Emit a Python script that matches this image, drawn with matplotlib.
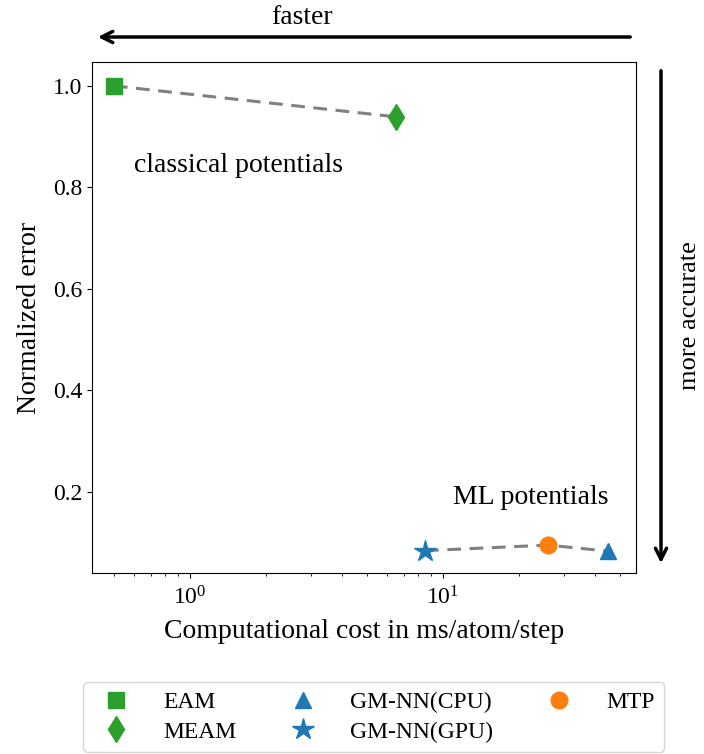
import matplotlib
matplotlib.use('Agg')
import matplotlib.pyplot as plt
import numpy as np

plt.rcParams['font.family'] = 'Liberation Serif'
plt.rcParams['mathtext.fontset'] = 'cm'

# values
names = ['EAM', 'MEAM', 'GM-NN(CPU)', 'GM-NN(GPU)', 'MTP']
cost = [0.5, 6.5, 45.0, 8.5, 26.0]
error = [1.0, 0.939, 0.083, 0.084, 0.095]
markers = ['s', 'd', '^', '*', 'o']
colors = ['#2ca02c', '#2ca02c', '#1f77b4', '#1f77b4', '#ff7f0e']
msizes = [12, 13, 12, 16, 12]

classical = [0, 1]
ml = [3, 4, 2]

fig = plt.figure(figsize=(7.04, 7.54), dpi=100)
ax = fig.add_axes([92/704, 1 - 573/754, 544/704, 511/754])

ax.plot([cost[i] for i in classical], [error[i] for i in classical],
        color='grey', lw=2.2, dashes=(4.5, 2.8), zorder=1)
ax.plot([cost[i] for i in ml], [error[i] for i in ml],
        color='grey', lw=2.2, dashes=(4.5, 2.8), zorder=1)

for i in range(len(names)):
    ax.plot(cost[i], error[i], linestyle='none', marker=markers[i],
            color=colors[i], ms=msizes[i], label=names[i], zorder=2)

ax.set_xscale('log')
ax.set_xlim(0.41, 58)
ax.set_ylim(0.04, 1.047)
ax.set_yticks([0.2, 0.4, 0.6, 0.8, 1.0])
ax.tick_params(labelsize=17)
ax.tick_params(axis='x', which='major', pad=6)

ax.text(0.6, 0.83, 'classical potentials', fontsize=20)
ax.text(11.0, 0.175, 'ML potentials', fontsize=20)

ax.set_xlabel('Computational cost in ms/atom/step', fontsize=20, labelpad=7)
ax.set_ylabel('Normalized error', fontsize=20, labelpad=8)

h, l = ax.get_legend_handles_labels()
ax.legend(h, l, ncol=3, loc='upper center', bbox_to_anchor=(0.518, -0.19),
          fontsize=17, handlelength=2.0, columnspacing=1.8, labelspacing=0.35,
          handletextpad=1.0)

# direction arrows
fig.patches.append(matplotlib.patches.FancyArrowPatch(
    (633/704, 1 - 37/754), (95/704, 1 - 37/754), transform=fig.transFigure,
    arrowstyle='->', mutation_scale=20, lw=2.5, color='black'))
fig.text(302/704, 1 - 17/754, 'faster', ha='center', va='center', fontsize=20)

fig.patches.append(matplotlib.patches.FancyArrowPatch(
    (661/704, 1 - 68/754), (661/704, 1 - 566/754), transform=fig.transFigure,
    arrowstyle='->', mutation_scale=20, lw=2.5, color='black'))
fig.text(690/704, 1 - 316/754, 'more accurate', ha='center', va='center',
         rotation=90, fontsize=19)

fig.savefig('out.png', dpi=100)
